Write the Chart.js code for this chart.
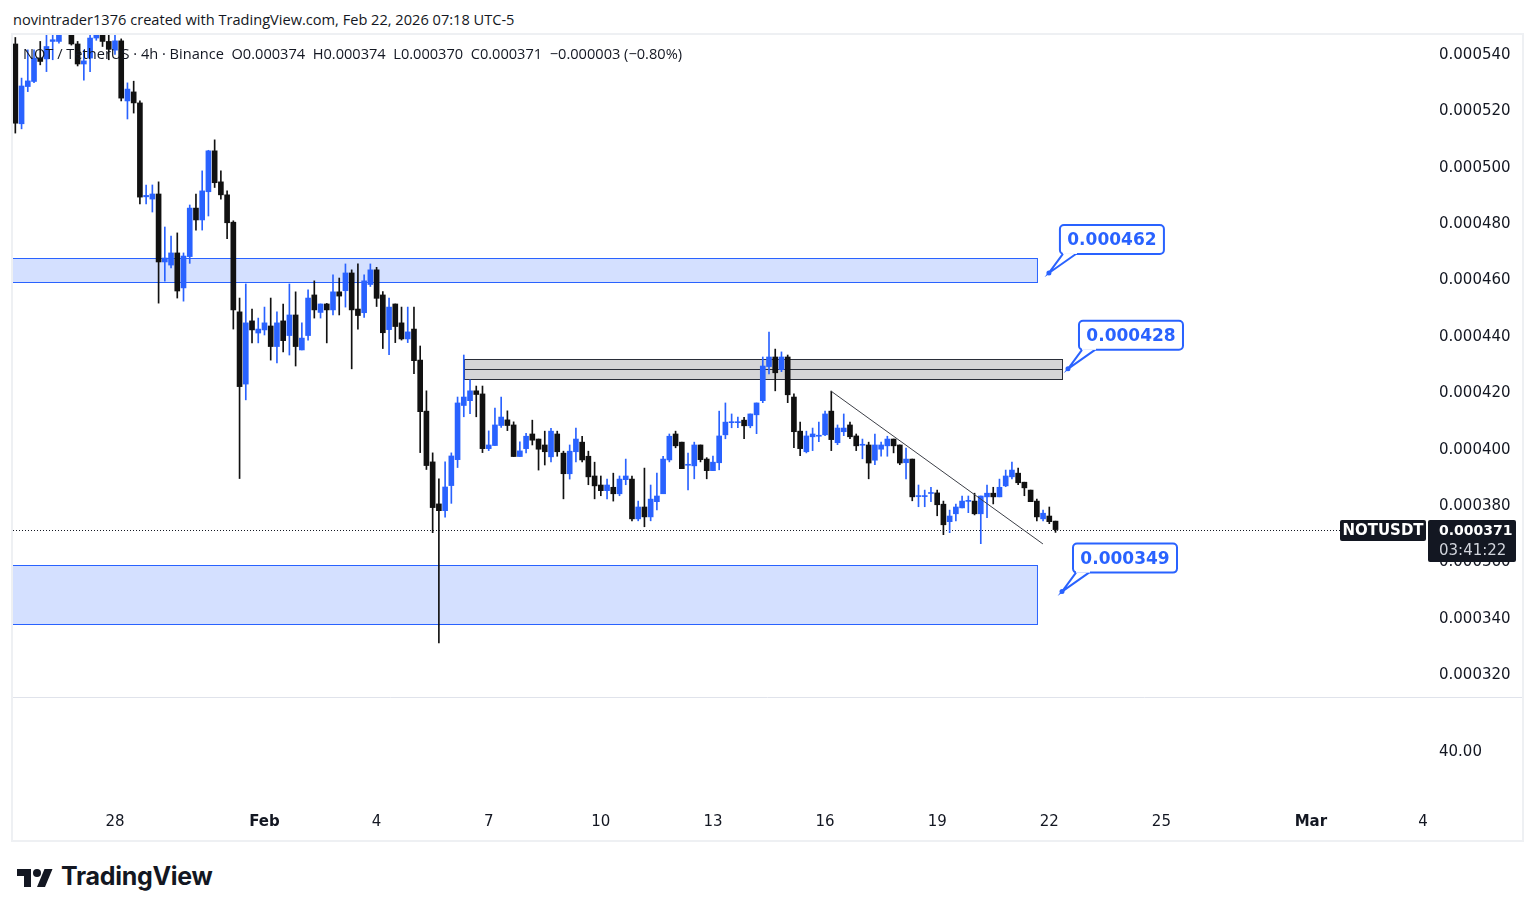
<!DOCTYPE html>
<html>
<head>
<meta charset="utf-8">
<script src="https://cdn.jsdelivr.net/npm/chart.js@4.4.1/dist/chart.umd.min.js"></script>
<style>
  html, body { margin: 0; padding: 0; background: #fff; }
  body { width: 1535px; height: 916px; position: relative; overflow: hidden;
         font-family: 'Open Sans', sans-serif; color: #131722; }
  #byline { position: absolute; left: 13px; top: 9px; font-size: 14.6px; }
  #frame { position: absolute; left: 11px; top: 33px; width: 1513px; height: 809px;
           box-sizing: border-box; border: 2px solid #eef0f3; }
  #chart { position: absolute; left: 13px; top: 35px; }
  #legend { position: absolute; left: 23px; top: 43px; font-size: 14.6px; white-space: pre; }
  #logo { position: absolute; left: 17px; top: 865px; }
  #logotext { position: absolute; left: 61px; top: 861px; font-family: Inter, sans-serif;
              font-weight: 700; font-size: 25px; letter-spacing: -0.3px; }
</style>
</head>
<body>
<div id="byline">novintrader1376 created with TradingView.com, Feb 22, 2026 07:18 UTC-5</div>
<div id="frame"></div>
<canvas id="chart" width="1509" height="805"></canvas>
<div id="legend">NOT / TetherUS · 4h · Binance  O0.000374  H0.000374  L0.000370  C0.000371  −0.000003 (−0.80%)</div>
<svg id="logo" width="36" height="28" viewBox="0 0 36 28"><path fill="#131722" d="M14 22H7V11H0V4h14v18zM28 22h-8l7.5-18h8L28 22z"/><circle fill="#131722" cx="20" cy="8" r="4"/></svg>
<div id="logotext">TradingView</div>

<script>
// NOTUSDT 4h bars, prices in millionths of a USDT (0.000543 -> 543)
var opens = [
  543.2, 514.9, 528.1, 529.9, 538.2, 537.9, 544.1, 544.1, 547.0, 549.0,
  543.2, 536.1, 538.2, 545.3, 546.8, 544.1, 541.0, 544.3, 523.0, 526.2,
  522.3, 489.0, 488.2, 490.0, 465.9, 464.8, 469.1, 456.7, 467.8, 485.0,
  480.8, 490.8, 505.3, 494.3, 489.7, 480.0, 448.2, 422.6, 445.0, 440.7,
  441.8, 443.2, 435.9, 445.0, 439.8, 447.1, 434.7, 439.8, 454.2, 448.0,
  451.0, 448.9, 455.3, 455.7, 462.0, 449.2, 447.9, 457.9, 463.1, 454.2,
  441.9, 451.0, 444.3, 438.6, 442.1, 431.1, 413.0, 395.0, 380.1, 377.7,
  386.6, 395.8, 415.0, 416.7, 420.2, 419.1, 399.7, 400.8, 407.9, 409.9,
  408.1, 396.9, 399.7, 404.9, 403.1, 401.0, 396.8, 404.9, 398.1, 390.8,
  398.6, 402.0, 397.0, 390.0, 386.8, 384.8, 386.0, 383.7, 388.7, 388.9,
  374.8, 379.0, 375.5, 380.9, 383.7, 395.7, 404.9, 402.0, 393.8, 393.6,
  401.0, 396.0, 391.9, 394.7, 404.6, 408.9, 408.9, 409.8, 407.8, 411.7,
  416.7, 428.8, 432.2, 427.7, 432.2, 418.0, 405.9, 398.6, 403.9, 404.1,
  404.6, 413.0, 401.8, 405.7, 408.1, 404.2, 400.9, 401.0, 395.6, 399.5,
  400.7, 403.1, 401.0, 394.7, 396.0, 382.7, 382.7, 383.8, 384.0, 380.0,
  373.8, 376.6, 378.7, 381.0, 381.1, 376.6, 382.6, 383.9, 382.6, 386.5,
  389.7, 391.0, 387.8, 385.0, 381.1, 374.8, 375.8, 374.0
];
var highs = [
  545.5, 531.1, 541.1, 541.1, 544.1, 548.5, 548.5, 549.0, 551.0, 550.0,
  544.1, 541.0, 548.5, 548.5, 548.5, 546.5, 547.0, 545.0, 529.4, 530.0,
  523.0, 493.2, 493.2, 494.3, 478.3, 475.1, 476.2, 469.1, 486.1, 490.0,
  498.2, 505.5, 509.2, 498.2, 491.1, 480.5, 453.1, 458.1, 449.2, 446.0,
  449.9, 453.1, 448.2, 451.0, 458.1, 455.3, 444.3, 456.0, 459.2, 451.0,
  451.2, 461.3, 460.2, 465.2, 463.1, 465.2, 461.3, 465.2, 464.0, 455.4,
  453.1, 451.0, 449.9, 449.9, 449.9, 436.1, 420.2, 398.2, 389.0, 395.0,
  398.2, 418.0, 432.9, 424.1, 421.9, 421.9, 406.0, 414.1, 418.0, 413.1,
  409.2, 402.1, 405.1, 409.8, 403.1, 405.9, 406.9, 405.9, 398.8, 401.0,
  407.0, 404.1, 398.8, 394.9, 390.0, 388.9, 391.0, 390.0, 396.0, 390.0,
  381.1, 392.8, 386.8, 391.0, 397.0, 404.9, 405.9, 402.0, 398.1, 402.0,
  401.0, 396.5, 397.1, 413.0, 415.9, 412.0, 410.9, 410.8, 412.0, 415.9,
  432.2, 441.0, 435.0, 434.0, 432.9, 419.1, 409.1, 405.9, 407.0, 409.1,
  413.0, 420.1, 408.1, 412.0, 409.1, 404.9, 403.1, 402.0, 404.9, 402.0,
  404.1, 403.1, 401.0, 399.9, 396.0, 386.8, 385.0, 386.0, 385.0, 381.1,
  377.9, 380.0, 382.9, 382.9, 383.9, 382.9, 386.8, 386.0, 388.9, 392.1,
  394.9, 392.8, 387.8, 385.0, 381.8, 377.9, 379.0, 374.0
];
var lows = [
  511.6, 513.1, 526.3, 529.5, 535.8, 533.4, 537.6, 543.5, 546.6, 542.8,
  535.4, 530.4, 533.4, 544.5, 542.3, 537.6, 539.5, 523.0, 516.6, 518.7,
  486.5, 486.5, 483.6, 451.3, 459.1, 463.8, 453.1, 452.0, 465.4, 477.2,
  477.2, 482.2, 492.3, 488.2, 474.2, 442.1, 389.1, 417.0, 437.2, 437.2,
  440.0, 431.1, 430.1, 434.0, 432.9, 429.0, 434.7, 438.2, 446.0, 446.0,
  437.2, 447.1, 447.1, 449.9, 428.0, 442.1, 446.2, 457.2, 450.1, 435.2,
  433.0, 437.3, 438.2, 437.3, 426.3, 398.3, 392.3, 369.9, 330.8, 375.4,
  380.3, 393.0, 411.0, 412.1, 411.0, 398.3, 399.0, 400.8, 407.2, 406.1,
  396.9, 396.9, 398.2, 401.0, 392.1, 393.9, 395.0, 397.0, 381.9, 388.9,
  395.0, 395.0, 386.9, 381.9, 383.0, 381.9, 381.1, 383.0, 386.9, 374.1,
  374.1, 372.0, 374.1, 378.0, 383.7, 395.0, 400.0, 392.6, 385.1, 389.0,
  395.0, 389.0, 391.9, 392.2, 403.2, 407.1, 407.1, 403.2, 407.1, 405.0,
  416.0, 426.2, 420.2, 427.0, 416.0, 400.0, 397.2, 398.2, 399.0, 402.2,
  404.3, 399.0, 401.1, 404.3, 403.2, 399.0, 396.1, 389.0, 394.0, 397.0,
  397.0, 398.2, 394.0, 389.0, 381.2, 379.1, 379.1, 380.9, 375.9, 369.2,
  369.9, 374.1, 378.7, 377.0, 376.2, 366.0, 375.2, 380.1, 382.6, 386.2,
  389.0, 386.9, 383.0, 380.9, 374.1, 374.1, 373.1, 370.0
];
var closes = [
  515.1, 528.3, 530.1, 538.2, 537.0, 542.3, 544.7, 546.8, 549.5, 543.2,
  536.1, 537.2, 545.3, 546.8, 544.1, 541.3, 544.3, 524.0, 527.2, 522.3,
  488.9, 489.5, 490.0, 465.9, 467.3, 469.1, 455.6, 468.0, 485.0, 480.8,
  491.1, 505.3, 494.0, 489.7, 479.8, 448.9, 421.7, 444.3, 441.8, 442.1,
  444.3, 435.9, 444.3, 438.0, 447.1, 435.9, 438.9, 453.1, 448.9, 451.0,
  448.9, 455.3, 453.8, 462.0, 448.9, 446.9, 459.2, 463.1, 453.0, 440.8,
  449.9, 443.0, 438.6, 441.1, 430.9, 412.8, 393.7, 378.8, 377.7, 386.1,
  397.1, 415.9, 418.0, 420.2, 418.9, 399.7, 401.0, 408.1, 410.9, 407.9,
  396.9, 398.9, 404.1, 402.7, 399.5, 398.6, 405.9, 398.6, 390.8, 398.8,
  403.1, 395.7, 389.7, 386.5, 384.8, 386.8, 383.7, 388.9, 390.0, 374.8,
  379.0, 375.5, 381.8, 382.9, 396.0, 404.1, 400.7, 392.6, 394.0, 401.0,
  395.8, 391.9, 394.9, 404.2, 409.1, 409.2, 409.2, 407.8, 412.0, 415.9,
  429.0, 432.2, 426.6, 432.2, 418.8, 405.7, 399.7, 404.2, 404.9, 404.3,
  412.0, 402.9, 407.0, 407.0, 403.9, 400.7, 401.1, 394.6, 401.0, 401.0,
  403.1, 400.7, 394.6, 396.0, 382.6, 382.9, 382.9, 384.0, 379.8, 372.7,
  375.8, 379.0, 381.1, 381.2, 376.6, 382.9, 383.9, 382.6, 386.0, 390.0,
  392.1, 387.6, 385.8, 380.9, 375.5, 376.8, 373.8, 371.0
];

var firstBar = Date.UTC(2026, 0, 25, 8);   // first visible 4h bar
var dayZero = Date.UTC(2026, 0, 28);       // x axis counts days from Jan 28
var barMs = 4 * 3600 * 1000;

// time axis
var tickDays = [0, 4, 7, 10, 13, 16, 19, 22, 25, 28, 32, 35];
var tickLabels = ['28', 'Feb', '4', '7', '10', '13', '16', '19', '22', '25', 'Mar', '4'];
var priceTicks = [320, 340, 360, 380, 400, 420, 440, 460, 480, 500, 520, 540];
var lowerTicks = [40];

// drawings on the chart
var blueZones = [[458.8, 467.3], [337.5, 358.4]];
var blueZoneEnd = 24.67;
var greyZone = [424.4, 431.5];
var greyZoneDays = [9.34, 25.34];
var trendDays = [19.16, 24.83];
var trendPrices = [420.1, 365.9];
var calloutDays = [24.99, 25.50, 25.34];
var calloutPrices = [462, 428, 349];
var lastPrice = 371;
var countdown = '03:41:22';

var UP = '#2962ff', DOWN = '#111111';
var AXIS_FONT = 'DejaVu Sans';

function fmt(v) { return (v / 1e6).toFixed(6); }
function barDay(i) { return (firstBar + i * barMs - dayZero) / 864e5; }
function noPad(s) { s.paddingTop = s.paddingBottom = s.paddingLeft = s.paddingRight = 0; }

var colors = opens.map(function (o, i) { return closes[i] >= o ? UP : DOWN; });
var wicks = opens.map(function (o, i) { return {x: barDay(i), y: [lows[i], highs[i]]}; });
var bodies = opens.map(function (o, i) { return {x: barDay(i), y: [o, closes[i]]}; });
var trend = trendDays.map(function (d, i) { return {x: d, y: trendPrices[i]}; });

function callout(ctx, ax, ay, text) {
    var bw = 104, bh = 29, bx = ax + 11, by = ay - 19 - bh;
    ctx.fillStyle = '#fff';
    ctx.strokeStyle = UP;
    ctx.lineWidth = 2;
    ctx.beginPath();
    ctx.roundRect(bx, by, bw, bh, 4);
    ctx.fill();
    ctx.stroke();
    // tail
    ctx.beginPath();
    ctx.moveTo(bx + 3, by + bh);
    ctx.lineTo(ax, ay);
    ctx.lineTo(bx + 16, by + bh);
    ctx.fill();
    ctx.stroke();
    ctx.fillRect(bx + 3, by + bh - 3, 14, 3);
    ctx.beginPath();
    ctx.arc(ax, ay, 2.5, 0, Math.PI * 2);
    ctx.fillStyle = UP;
    ctx.fill();
    ctx.font = 'bold 17px ' + AXIS_FONT;
    ctx.textAlign = 'center';
    ctx.textBaseline = 'middle';
    ctx.fillText(text, bx + bw / 2, by + bh / 2 + 1);
}

var overlay = {
    id: 'overlay',
    beforeDatasetsDraw: function (chart) {
        var ctx = chart.ctx, xs = chart.scales.x, ys = chart.scales.y, area = chart.chartArea;
        ctx.save();

        // support / resistance zones
        blueZones.forEach(function (z) {
            var l = area.left, r = xs.getPixelForValue(blueZoneEnd);
            var t = ys.getPixelForValue(z[1]), b = ys.getPixelForValue(z[0]);
            ctx.fillStyle = 'rgba(41,98,255,0.2)';
            ctx.fillRect(l, t, r - l, b - t);
            ctx.strokeStyle = UP;
            ctx.lineWidth = 1;
            ctx.strokeRect(l - 1, Math.round(t) + 0.5, r - l + 1.5, Math.round(b - t));
        });

        var gl = xs.getPixelForValue(greyZoneDays[0]), gr = xs.getPixelForValue(greyZoneDays[1]);
        var gt = ys.getPixelForValue(greyZone[1]), gb = ys.getPixelForValue(greyZone[0]);
        var gm = ys.getPixelForValue((greyZone[0] + greyZone[1]) / 2);
        ctx.fillStyle = '#d5d5d7';
        ctx.fillRect(gl, gt, gr - gl, gb - gt);
        ctx.strokeStyle = '#2a2e39';
        ctx.strokeRect(Math.round(gl) + 0.5, Math.round(gt) + 0.5, Math.round(gr - gl), Math.round(gb - gt));
        ctx.beginPath();
        ctx.moveTo(gl, Math.round(gm) + 0.5);
        ctx.lineTo(gr, Math.round(gm) + 0.5);
        ctx.stroke();

        // last price line
        var py = Math.round(ys.getPixelForValue(lastPrice)) + 0.5;
        ctx.strokeStyle = '#131722';
        ctx.setLineDash([1, 2]);
        ctx.beginPath();
        ctx.moveTo(area.left, py);
        ctx.lineTo(area.right - 89, py);
        ctx.stroke();
        ctx.restore();
    },
    afterDraw: function (chart) {
        var ctx = chart.ctx, xs = chart.scales.x, ys = chart.scales.y, area = chart.chartArea;
        ctx.save();

        // pane separator
        ctx.strokeStyle = '#e0e3eb';
        ctx.lineWidth = 1;
        ctx.beginPath();
        ctx.moveTo(0, Math.round(ys.bottom) + 0.5);
        ctx.lineTo(chart.width, Math.round(ys.bottom) + 0.5);
        ctx.stroke();

        calloutDays.forEach(function (d, i) {
            callout(ctx, xs.getPixelForValue(d), ys.getPixelForValue(calloutPrices[i]), fmt(calloutPrices[i]));
        });

        // symbol + last price badge on the price scale
        var py = Math.round(ys.getPixelForValue(lastPrice));
        ctx.fillStyle = '#131722';
        ctx.beginPath();
        ctx.roundRect(area.right - 89, py - 10, 86, 21, 2);
        ctx.fill();
        ctx.beginPath();
        ctx.roundRect(area.right - 1, py - 10, 88, 42, 2);
        ctx.fill();
        ctx.textBaseline = 'middle';
        ctx.textAlign = 'center';
        ctx.fillStyle = '#fff';
        ctx.font = 'bold 15px ' + AXIS_FONT;
        ctx.fillText('NOTUSDT', area.right - 46, py + 1);
        ctx.textAlign = 'left';
        ctx.font = 'bold 14px ' + AXIS_FONT;
        ctx.fillText(fmt(lastPrice), area.right + 10, py + 1);
        ctx.fillStyle = '#d1d4dc';
        ctx.font = '15px ' + AXIS_FONT;
        ctx.fillText(countdown, area.right + 10, py + 21);
        ctx.restore();
    }
};

new Chart(document.getElementById('chart'), {
    type: 'bar',
    data: {
        datasets: [
            {type: 'line', data: trend, yAxisID: 'y', borderColor: '#3c3f47', borderWidth: 1,
             pointRadius: 0, order: 0},
            {data: bodies, yAxisID: 'y', backgroundColor: colors, barThickness: 5,
             minBarLength: 1, grouped: false, order: 1},
            {data: wicks, yAxisID: 'y', backgroundColor: colors, barThickness: 1,
             grouped: false, order: 2}
        ]
    },
    options: {
        responsive: false,
        animation: false,
        layout: {padding: 0, autoPadding: false},
        plugins: {legend: {display: false}, tooltip: {enabled: false}},
        scales: {
            x: {
                type: 'linear', min: -2.729, max: 35.16, offset: false,
                grid: {display: false, drawTicks: false}, border: {display: false},
                afterBuildTicks: function (s) { s.ticks = tickDays.map(function (v) { return {value: v}; }); },
                afterFit: function (s) { s.height = 40; noPad(s); },
                ticks: {
                    autoSkip: false, maxRotation: 0, padding: 13, color: '#131722',
                    font: function (c) {
                        var lab = tickLabels[tickDays.indexOf(c.tick ? c.tick.value : -1)] || '';
                        return {family: AXIS_FONT, size: 15, weight: isNaN(+lab) ? 'bold' : 'normal'};
                    },
                    callback: function (v) { return tickLabels[tickDays.indexOf(v)]; }
                }
            },
            y: {
                position: 'right', stack: 'panes', stackWeight: 662, min: 311.63, max: 546.38,
                grid: {display: false, drawTicks: false}, border: {display: false},
                afterBuildTicks: function (s) { s.ticks = priceTicks.map(function (v) { return {value: v}; }); },
                afterFit: function (s) { s.width = 93; noPad(s); },
                ticks: {padding: 10, labelOffset: 2, color: '#131722', font: {family: AXIS_FONT, size: 15}, callback: fmt}
            },
            y2: {
                position: 'right', stack: 'panes', stackWeight: 103, min: 0, max: 80,
                grid: {display: false, drawTicks: false}, border: {display: false},
                afterBuildTicks: function (s) { s.ticks = lowerTicks.map(function (v) { return {value: v}; }); },
                afterFit: function (s) { s.width = 93; noPad(s); },
                ticks: {padding: 10, labelOffset: 4, color: '#131722', font: {family: AXIS_FONT, size: 15},
                        callback: function (v) { return v.toFixed(2); }}
            }
        }
    },
    plugins: [overlay]
});
</script>
</body>
</html>
